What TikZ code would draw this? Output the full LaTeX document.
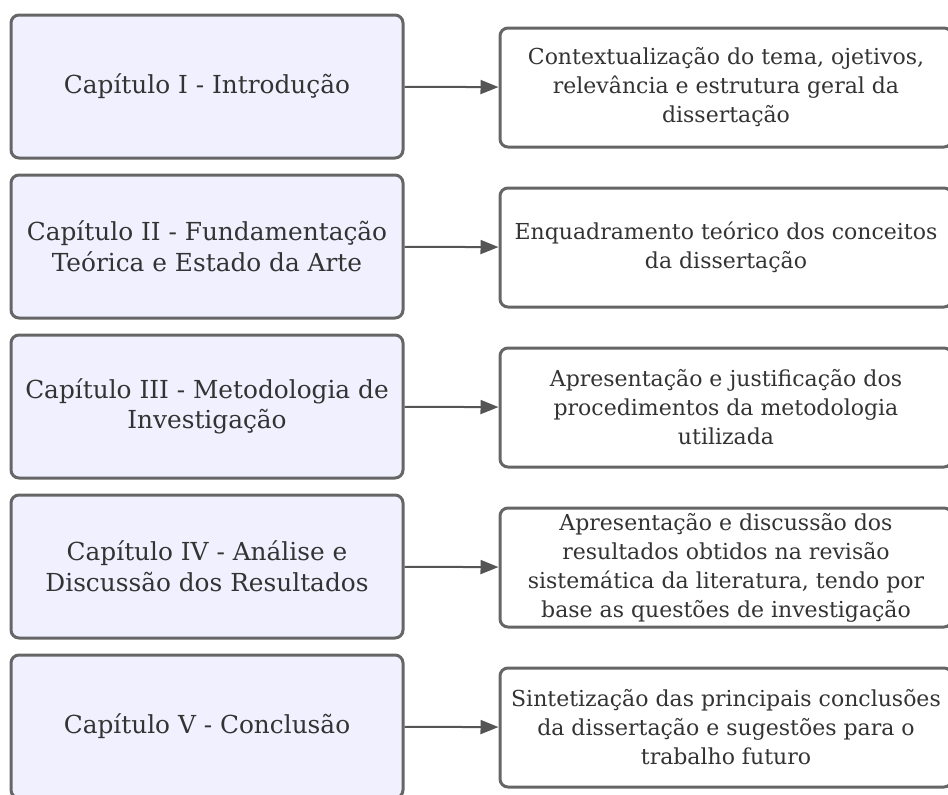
\documentclass[tikz,border=0pt]{standalone}
\usepackage{fontspec}
\setmainfont{DejaVu Serif}
\definecolor{capfill}{HTML}{F0F0FF}
\definecolor{boxline}{HTML}{666666}
\definecolor{txt}{HTML}{333333}
\definecolor{arr}{HTML}{555555}
\usetikzlibrary{arrows.meta}

\begin{document}
\begin{tikzpicture}[x=1pt,y=-1pt,line join=round,
  capbox/.style={draw=boxline,fill=capfill,line width=3pt,rounded corners=8pt,minimum width=392pt,minimum height=143pt,align=center,text=txt,font=\fontsize{24.8}{30.5}\selectfont},
  descbox/.style={draw=boxline,fill=white,line width=3pt,rounded corners=8pt,minimum width=452pt,minimum height=119pt,inner sep=0pt,align=center,text=txt,font=\fontsize{22}{29}\selectfont},
  flow/.style={draw=arr,line width=2pt,-{Triangle[length=18pt,width=14pt]}}]
				\useasboundingbox (0,0) rectangle (948,795);
				\foreach \n/\cap/\desc in {
				1/{Capítulo I - Introdução}/{Contextualização do tema, ojetivos,\\relevância e estrutura geral da\\dissertação},
				2/{Capítulo II - Fundamentação\\Teórica e Estado da Arte}/{Enquadramento teórico dos conceitos\\da dissertação},
				3/{Capítulo III - Metodologia de\\Investigação}/{Apresentação e justificação dos\\procedimentos da metodologia\\utilizada},
				4/{Capítulo IV - Análise e\\Discussão dos Resultados}/{Apresentação e discussão dos\\resultados obtidos na revisão\\sistemática da literatura, tendo por\\base as questões de investigação},
				5/{Capítulo V - Conclusão}/{Sintetização das principais conclusões\\da dissertação e sugestões para o\\trabalho futuro}}{
				\node[capbox] (C\n) at (207,{86.5+160*(\n-1)}) {\cap};
				\node[descbox] (D\n) at (726,{87.5+160*(\n-1)}) {\desc};
				\draw[flow] (C\n) -- (D\n);}
			\end{tikzpicture}
\end{document}
